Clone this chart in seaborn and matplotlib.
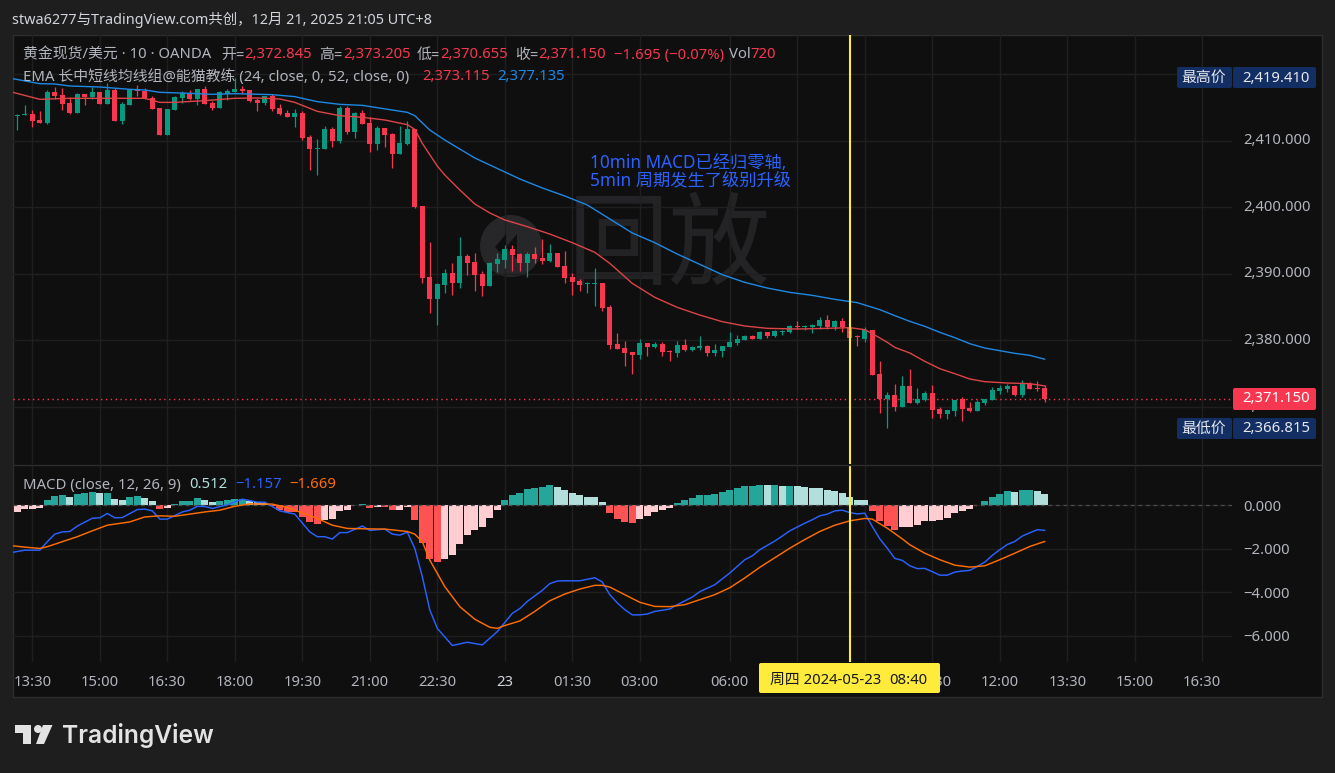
#!/usr/bin/env python3
# -*- coding: utf-8 -*-

import numpy as np
import matplotlib
matplotlib.use("Agg")
import matplotlib.pyplot as plt
import seaborn as sns
from matplotlib.patches import Circle, FancyBboxPatch, Polygon, Rectangle
from matplotlib.transforms import IdentityTransform, ScaledTranslation

# ==============================================================
# DATI (una barra ogni 10 min)
# ==============================================================

opens = [
    2413.76, 2413.91, 2414.01, 2413.11, 2412.66, 2417.32, 2416.87, 2415.71, 2414.16, 2417.07,
    2416.57, 2417.32, 2415.51, 2417.62, 2412.96, 2415.36, 2417.72, 2417.47, 2416.42, 2414.91,
    2410.85, 2414.61, 2416.42, 2417.07, 2416.22, 2417.77, 2415.61, 2414.91, 2417.07, 2417.32,
    2417.77, 2417.62, 2416.12, 2415.66, 2416.72, 2414.91, 2414.16, 2413.56, 2414.16, 2410.55,
    2408.75, 2408.75, 2411.75, 2409.95, 2414.91, 2411.30, 2414.16, 2412.66, 2409.50, 2411.90,
    2411.00, 2407.99, 2409.50, 2411.75, 2400.17, 2389.50, 2386.19, 2388.29, 2390.10, 2388.59,
    2392.65, 2391.75, 2389.95, 2388.14, 2391.45, 2392.05, 2393.71, 2392.96, 2391.60, 2392.96,
    2392.35, 2391.90, 2393.11, 2391.15, 2389.50, 2388.90, 2388.49, 2388.49, 2388.59, 2384.99,
    2379.42, 2378.82, 2378.22, 2377.77, 2379.57, 2378.97, 2379.42, 2378.42, 2378.07, 2379.27,
    2378.52, 2378.82, 2379.12, 2378.07, 2378.37, 2378.97, 2379.57, 2380.02, 2380.62, 2380.17,
    2381.22, 2380.62, 2381.22, 2381.22, 2382.13, 2381.98, 2381.98, 2382.13, 2383.03, 2381.98,
    2382.88, 2382.03, 2380.53, 2380.23, 2381.58, 2374.96, 2371.20, 2371.80, 2370.00, 2373.16,
    2370.60, 2371.05, 2372.11, 2369.70, 2368.95, 2369.40, 2371.20, 2369.85, 2369.40, 2370.60,
    2371.05, 2372.41, 2372.71, 2373.16, 2371.80, 2373.46, 2372.86, 2372.845,
]
highs = [
    2413.96, 2415.36, 2414.61, 2414.46, 2417.62, 2418.02, 2417.87, 2416.52, 2417.12, 2417.07,
    2418.12, 2417.32, 2418.62, 2417.87, 2415.87, 2417.72, 2418.37, 2417.87, 2416.72, 2414.91,
    2414.76, 2416.77, 2417.52, 2417.62, 2417.77, 2418.22, 2416.02, 2417.47, 2417.77, 2419.41,
    2418.22, 2417.62, 2416.47, 2416.77, 2417.02, 2415.51, 2414.61, 2414.71, 2414.46, 2410.85,
    2410.25, 2412.21, 2412.01, 2415.21, 2415.21, 2414.36, 2414.61, 2413.51, 2412.21, 2411.90,
    2411.15, 2412.21, 2412.96, 2411.75, 2400.17, 2394.76, 2388.54, 2390.65, 2391.60, 2395.51,
    2392.96, 2393.11, 2390.40, 2391.75, 2393.11, 2394.31, 2394.31, 2393.11, 2393.26, 2394.01,
    2395.21, 2394.46, 2393.11, 2393.41, 2390.05, 2389.20, 2388.79, 2390.80, 2388.59, 2385.29,
    2381.07, 2379.87, 2378.22, 2380.17, 2379.57, 2379.72, 2379.72, 2378.52, 2379.87, 2380.17,
    2379.12, 2380.62, 2379.27, 2379.42, 2379.12, 2381.22, 2380.77, 2380.77, 2380.77, 2381.38,
    2381.22, 2381.53, 2381.53, 2382.28, 2382.88, 2382.28, 2382.43, 2383.43, 2383.78, 2383.03,
    2383.33, 2382.10, 2380.83, 2381.98, 2381.58, 2376.92, 2372.26, 2373.46, 2374.66, 2375.71,
    2372.86, 2372.41, 2373.31, 2370.00, 2369.55, 2371.05, 2371.50, 2370.75, 2371.05, 2371.20,
    2373.01, 2373.31, 2373.46, 2373.31, 2374.06, 2373.76, 2373.91, 2373.205,
]
lows = [
    2411.60, 2413.86, 2412.11, 2412.61, 2412.51, 2416.27, 2414.61, 2414.01, 2414.16, 2415.36,
    2416.22, 2415.51, 2415.51, 2412.96, 2412.51, 2415.36, 2416.72, 2416.27, 2414.76, 2410.85,
    2410.85, 2414.61, 2415.71, 2416.17, 2415.36, 2415.51, 2414.61, 2414.91, 2416.12, 2417.27,
    2417.07, 2415.87, 2414.46, 2415.41, 2414.46, 2413.86, 2413.56, 2412.11, 2410.10, 2405.59,
    2404.84, 2408.75, 2409.05, 2409.65, 2411.00, 2410.40, 2412.51, 2408.30, 2408.60, 2409.05,
    2405.89, 2407.99, 2409.35, 2399.92, 2388.59, 2384.08, 2382.28, 2387.09, 2386.79, 2387.84,
    2389.80, 2387.39, 2386.64, 2388.14, 2390.25, 2390.85, 2390.40, 2390.40, 2389.50, 2391.60,
    2391.45, 2391.70, 2391.00, 2388.59, 2386.79, 2387.34, 2387.09, 2385.14, 2384.38, 2378.67,
    2378.67, 2376.11, 2374.91, 2377.16, 2377.62, 2378.82, 2377.62, 2376.86, 2377.47, 2378.37,
    2378.37, 2378.52, 2377.62, 2377.62, 2377.47, 2378.97, 2379.27, 2380.02, 2380.17, 2380.17,
    2380.32, 2380.47, 2380.77, 2381.07, 2381.68, 2381.53, 2381.07, 2381.68, 2381.68, 2381.53,
    2381.22, 2380.30, 2379.07, 2379.78, 2374.81, 2369.10, 2366.815, 2369.40, 2370.00, 2370.60,
    2370.45, 2370.90, 2368.35, 2368.35, 2368.20, 2368.65, 2367.89, 2369.25, 2369.40, 2370.30,
    2371.05, 2371.96, 2372.26, 2371.65, 2371.50, 2372.71, 2372.41, 2370.655,
]
closes = [
    2413.86, 2414.01, 2412.96, 2412.66, 2417.32, 2416.72, 2415.51, 2414.11, 2417.02, 2416.57,
    2417.32, 2415.51, 2417.62, 2412.96, 2415.51, 2417.62, 2417.52, 2416.37, 2414.76, 2410.85,
    2414.76, 2416.57, 2417.17, 2416.27, 2417.77, 2415.51, 2414.86, 2417.32, 2417.47, 2417.77,
    2417.47, 2415.97, 2415.66, 2416.72, 2414.71, 2414.01, 2413.56, 2414.16, 2410.40, 2408.75,
    2408.90, 2411.75, 2409.95, 2414.91, 2411.30, 2414.16, 2412.51, 2409.50, 2411.90, 2410.85,
    2407.99, 2409.65, 2411.75, 2400.02, 2389.35, 2386.19, 2388.44, 2390.10, 2388.59, 2392.65,
    2391.60, 2389.80, 2388.14, 2391.60, 2392.20, 2393.71, 2392.81, 2391.60, 2392.96, 2392.15,
    2391.90, 2393.11, 2391.00, 2389.35, 2388.74, 2388.29, 2388.64, 2388.59, 2384.83, 2379.27,
    2378.67, 2378.07, 2377.77, 2379.57, 2378.97, 2379.42, 2378.22, 2378.27, 2379.27, 2378.52,
    2378.97, 2379.12, 2378.07, 2378.52, 2379.12, 2379.72, 2380.17, 2380.62, 2380.17, 2381.22,
    2380.62, 2381.38, 2381.38, 2382.13, 2381.98, 2382.13, 2382.28, 2383.03, 2381.98, 2382.88,
    2381.98, 2380.38, 2380.43, 2381.58, 2374.81, 2371.20, 2371.80, 2370.00, 2373.16, 2370.60,
    2371.20, 2372.11, 2369.55, 2368.95, 2369.55, 2371.05, 2369.70, 2369.40, 2370.75, 2371.20,
    2372.56, 2372.86, 2373.16, 2371.80, 2373.46, 2372.71, 2372.71, 2371.15,
]

# EMA: (numero barra, valore)
ema24_bars = [0.4, 4, 8, 12, 18, 20, 22, 26, 30, 33, 36, 38, 41, 44, 47, 50, 53, 54, 55, 57,
              58, 60, 62, 64, 66, 69, 72, 75, 78, 80, 83, 86, 89, 92, 95, 98, 101, 105, 109, 112,
              114, 115, 117, 118, 120, 122, 124, 126, 128, 130, 133, 136, 138]
ema24_vals = [2417.27, 2416.22, 2416.37, 2416.37, 2416.37, 2415.76, 2415.76, 2416.02, 2416.37,
              2416.42, 2416.27, 2415.76, 2414.41, 2413.76, 2413.51, 2413.11, 2412.41, 2411.70,
              2409.60, 2406.19, 2404.84, 2402.59, 2400.48, 2399.13, 2398.08, 2397.07, 2395.96,
              2394.66, 2393.21, 2391.55, 2388.54, 2386.44, 2384.93, 2383.78, 2382.78, 2382.13,
              2381.78, 2381.68, 2381.78, 2381.88, 2381.58, 2380.98, 2379.68, 2378.92, 2378.07,
              2376.82, 2375.71, 2374.96, 2374.16, 2373.76, 2373.56, 2373.46, 2373.115]

ema52_bars = [0.4, 4, 6, 8, 12, 16, 18, 20, 24, 27, 30, 35, 38, 41, 44, 47, 49, 51, 53, 54, 56, 57,
              58, 60, 62, 65, 68, 71, 74, 77, 80, 83, 86, 89, 92, 95, 98, 101, 104, 107, 110, 113,
              116, 118, 120, 122, 124, 126, 128, 130, 132, 134, 136, 138]
ema52_vals = [2419.32, 2418.57, 2418.52, 2418.22, 2418.07, 2417.72, 2417.62, 2417.27, 2417.12,
              2416.97, 2417.07, 2416.92, 2416.62, 2415.87, 2415.46, 2415.31, 2414.96, 2414.61,
              2414.26, 2413.76, 2411.60, 2410.85, 2410.10, 2408.74, 2407.40, 2405.82, 2404.24,
              2402.89, 2401.68, 2400.33, 2398.23, 2396.12, 2394.66, 2392.95, 2391.40, 2389.85,
              2388.69, 2387.84, 2387.19, 2386.74, 2386.14, 2385.64, 2384.59, 2383.69, 2382.83,
              2382.08, 2381.18, 2380.38, 2379.47, 2378.82, 2378.42, 2378.02, 2377.72, 2377.135]

# MACD istogramma, una colonna per barra
hist_vals = [
    -.31, -.18, -.17, -.12, .23, .41, .46, .37, .51, .55,
    .60, .55, .56, .28, .23, .37, .41, .32, .18, -.18,
    -.14, .05, .18, .19, .32, .23, .14, .18, .23, .28,
    .29, .18, .14, .09, -.05, -.23, -.31, -.32, -.55, -.78,
    -.87, -.69, -.64, -.28, -.23, .02, .05, -.14, -.08, -.09,
    -.23, -.22, -.08, -.69, -1.75, -2.48, -2.62, -2.48, -2.30, -1.79,
    -1.38, -1.15, -1.01, -.60, -.23, .23, .46, .57, .75, .80,
    .84, .93, .84, .70, .57, .47, .38, .37, .15, -.35,
    -.63, -.77, -.81, -.63, -.49, -.31, -.21, -.12, .11, .25,
    .34, .47, .48, .52, .61, .70, .80, .89, .90, .93,
    .92, .93, .89, .90, .89, .84, .80, .79, .70, .66,
    .57, .38, .25, .24, -.26, -.72, -.95, -1.13, -1.00, -.99,
    -.90, -.72, -.71, -.67, -.58, -.35, -.26, -.17, .02, .20,
    .38, .52, .66, .61, .70, .71, .66, .512,
]

macd_bars = [0.4, 2, 4, 5, 6, 7, 8, 9, 11, 12, 13, 14, 15, 17, 18, 19, 20, 21, 23, 24, 25, 26, 27,
             29, 31, 33, 34, 36, 38, 40, 41, 42, 43, 44, 45, 47, 48, 50, 51, 52, 53, 54, 55, 56,
             57, 59, 61, 63, 65, 67, 68, 69, 71, 72, 73, 74, 76, 78, 79, 80, 81, 82, 83, 84, 85,
             86, 88, 89, 91, 92, 94, 96, 98, 99, 100, 102, 103, 104, 106, 107, 108, 109, 110, 111,
             112, 113, 114, 115, 116, 117, 118, 119, 120, 121, 122, 123, 124, 125, 126, 127, 128,
             129, 130, 131, 132, 133, 134, 135, 136, 137, 138]
macd_vals = [-2.17, -2.07, -2.07, -1.68, -1.33, -1.23, -1.21, -.96, -.60, -.58, -.38, -.58, -.57,
             -.20, -.18, -.26, -.64, -.64, -.31, -.23, -.05, -.06, -.15, .02, .28, .14, .14, -.26,
             -.41, -1.23, -1.45, -1.45, -1.56, -1.26, -1.26, -.96, -1.16, -1.10, -1.33, -1.38,
             -1.24, -1.99, -3.29, -4.82, -5.67, -6.46, -6.31, -6.43, -5.82, -4.98, -4.76, -4.43,
             -3.92, -3.61, -3.49, -3.48, -3.48, -3.34, -3.54, -4.12, -4.50, -4.81, -5.05, -5.05,
             -5.01, -4.89, -4.78, -4.58, -4.23, -3.98, -3.66, -3.12, -2.51, -2.33, -2.05, -1.65,
             -1.42, -1.18, -.83, -.67, -.49, -.41, -.26, -.23, -.34, -.40, -.37, -.98, -1.55,
             -1.98, -2.45, -2.54, -2.79, -2.92, -2.91, -3.06, -3.22, -3.22, -3.08, -3.03, -3.00,
             -2.82, -2.62, -2.31, -2.05, -1.81, -1.67, -1.42, -1.27, -1.13, -1.157]

signal_bars = [0.4, 2, 4, 5, 7, 9, 11, 13, 16, 18, 20, 22, 24, 26, 28, 30, 32, 35, 37, 39, 41, 43,
               45, 48, 50, 53, 54, 55, 56, 58, 60, 62, 64, 65, 66, 68, 70, 72, 74, 76, 78, 79, 80,
               82, 84, 86, 88, 90, 92, 94, 96, 98, 100, 102, 104, 106, 108, 110, 112, 114, 115,
               117, 119, 120, 122, 124, 126, 128, 130, 132, 134, 136, 138]
signal_vals = [-1.87, -1.93, -1.99, -1.91, -1.68, -1.45, -1.18, -.92, -.77, -.54, -.49, -.51, -.41,
               -.31, -.23, -.05, .06, .05, -.11, -.35, -.61, -.92, -1.07, -1.09, -1.10, -1.21,
               -1.33, -1.68, -2.53, -3.75, -4.67, -5.25, -5.62, -5.67, -5.54, -5.33, -4.89, -4.40,
               -4.09, -3.86, -3.69, -3.69, -3.77, -4.12, -4.47, -4.66, -4.67, -4.58, -4.35, -4.12,
               -3.80, -3.35, -2.86, -2.42, -1.98, -1.58, -1.21, -.92, -.72, -.61, -.64, -1.06,
               -1.55, -1.82, -2.21, -2.51, -2.76, -2.85, -2.79, -2.51, -2.21, -1.90, -1.669]

# 07:30 e 09:00 stanno sotto l'etichetta gialla: resta solo la griglia
time_ticks = [3, 12, 21, 30, 39, 48, 57, 66, 75, 84, 96, 105, 114, 123, 132, 141, 150, 159]
time_labels = ["13:30", "15:00", "16:30", "18:00", "19:30", "21:00", "22:30", "23", "01:30", "03:00",
               "06:00", "", "", "10:30", "12:00", "13:30", "15:00", "16:30"]
price_ticks = [2420, 2410, 2400, 2390, 2380, 2370]
macd_ticks = [0, -2, -4, -6]
last_price = 2371.15
replay_bar = 112

# ==============================================================
# STILE
# ==============================================================

W, H = 1335, 773
BG_OUT = "#1e1e1e"
BG_PANE = "#0f0f0f"
GRID = "#1f1f1f"
TXT = "#b2b5be"
UP = "#089981"
DOWN = "#f7374f"
YELLOW = "#ffeb3b"
FONT = ["Noto Sans", "Noto Sans CJK SC", "DejaVu Sans"]
FS = 10.7

sns.set_theme(style="dark", rc={"axes.facecolor": BG_PANE, "figure.facecolor": BG_OUT})
plt.rcParams["font.family"] = FONT

fig = plt.figure(figsize=(W / 100, H / 100), dpi=100)


def px_axes(x0, y0, x1, y1):
    return fig.add_axes([x0 / W, 1 - y1 / H, (x1 - x0) / W, (y1 - y0) / H])


def put(x, y, s, color=TXT, size=FS, ha="left", **kw):
    return fig.text(x / W, 1 - (y + 1) / H, s, color=color, fontsize=size, ha=ha, va="center", **kw)


def box(x0, y0, x1, y1, color, r=2):
    p = FancyBboxPatch((x0 + r, H - y1 + r), x1 - x0 - 2 * r, y1 - y0 - 2 * r,
                       boxstyle=f"round,pad={r},rounding_size={r}", linewidth=0,
                       facecolor=color, transform=IdentityTransform(), zorder=2)
    fig.add_artist(p)


# sfondo del riquadro grafico + bordo
fig.add_artist(Rectangle((13, H - 697), 1309, 662, facecolor=BG_PANE, edgecolor="#2d2d2d",
                         linewidth=1, transform=IdentityTransform(), zorder=-1))

ax = px_axes(13, 35, 1232, 464)
ax2 = px_axes(13, 465, 1232, 662)
xlim = (0.427, 162.96)

bars = np.arange(1, len(opens) + 1)
o, h, l, c = map(np.array, (opens, highs, lows, closes))
colors = np.where(c >= o, UP, DOWN)

# ==============================================================
# PANNELLO PREZZO
# ==============================================================

# logo "replay" in filigrana
ax.add_patch(Circle((511, H - 246), 31, facecolor="#27272a", linewidth=0,
                    transform=IdentityTransform(), zorder=0.5))
for tx in (495, 506):
    ax.add_patch(Polygon([(tx, H - 247), (tx + 11, H - 234), (tx + 11, H - 259)], facecolor=BG_PANE,
                         linewidth=0, transform=IdentityTransform(), zorder=0.6))
ax.text(669 / W, 1 - 250 / H, "回放", transform=fig.transFigure, fontsize=73, color="#232326",
        ha="center", va="center", zorder=0.5)

ax.axhline(last_price, color=DOWN, linestyle=(0, (1, 2.5)), linewidth=1, zorder=1.5)
ax.vlines(bars, l, h, colors=colors, linewidth=0.9, zorder=3)
ax.bar(bars, np.maximum(np.abs(c - o), 0.16), bottom=np.minimum(o, c), width=0.68, color=colors,
       linewidth=0, zorder=3)
sns.lineplot(x=ema24_bars, y=ema24_vals, color="#dd4448", linewidth=1.0, estimator=None, ax=ax, zorder=4)
sns.lineplot(x=ema52_bars, y=ema52_vals, color="#1e88e5", linewidth=1.0, estimator=None, ax=ax, zorder=4)

ax.set_xlim(*xlim)
ax.set_ylim(2361.38, 2425.89)
ax.set_yticks(price_ticks)
ax.set_yticklabels([f"{v:,.3f}" for v in price_ticks])

# ==============================================================
# PANNELLO MACD
# ==============================================================

prev = [hist_vals[0] - 1] + hist_vals[:-1]
hist_kind = []
for v, p in zip(hist_vals, prev):
    if v >= 0:
        hist_kind.append("su+" if v >= p else "giu+")
    else:
        hist_kind.append("su-" if v >= p else "giu-")
hist_palette = {"su+": "#26a69a", "giu+": "#b2dfdb", "su-": "#ffcdd2", "giu-": "#ff5252"}

sns.barplot(x=bars, y=hist_vals, hue=hist_kind, palette=hist_palette, native_scale=True, dodge=False,
            width=0.88, saturation=1, linewidth=0, legend=False, ax=ax2, zorder=2)
ax2.axhline(0, color="#4d4d4d", linestyle=(0, (3, 3)), linewidth=0.9, zorder=2.5)
sns.lineplot(x=macd_bars, y=macd_vals, color="#2962ff", linewidth=1.05, estimator=None, ax=ax2, zorder=4)
sns.lineplot(x=signal_bars, y=signal_vals, color="#ff6d00", linewidth=1.05, estimator=None, ax=ax2, zorder=4)

ax2.set_xlim(*xlim)
ax2.set_ylim(-7.219, 1.851)
ax2.set_yticks(macd_ticks)
ax2.set_yticklabels([f"{v:.3f}".replace("-", "\u2212") for v in macd_ticks])

for a in (ax, ax2):
    a.patch.set_alpha(0)
    for s in a.spines.values():
        s.set_visible(False)
    a.grid(True, color=GRID, linewidth=1)
    a.set_axisbelow(True)
    a.set_xticks(time_ticks)
    a.yaxis.tick_right()
    a.tick_params(axis="y", length=0, pad=8, labelsize=FS, labelcolor=TXT)
    a.tick_params(axis="x", length=0, pad=9, labelsize=FS, labelcolor=TXT)
    a.set_xlabel("")
    a.set_ylabel("")
    a.axvline(replay_bar, color=YELLOW, linewidth=1.5, zorder=5)
ax.tick_params(axis="x", labelbottom=False)
ax2.set_xticklabels(time_labels)
for lab in ax2.get_xticklabels():
    if lab.get_text() == "23":
        lab.set_color("#d1d4dc")
        lab.set_fontweight("bold")

# le etichette di prezzo stanno 2 px sopra la griglia
up2 = ScaledTranslation(0, 2 / 100, fig.dpi_scale_trans)
for lab in ax.get_yticklabels():
    lab.set_transform(lab.get_transform() + up2)

# separatore tra i pannelli
fig.add_artist(plt.Line2D([13 / W, 1322 / W], [1 - 464.5 / H] * 2, color="#2d2d2d", linewidth=1, zorder=0.5))

# ==============================================================
# ETICHETTE E TESTI
# ==============================================================

put(12, 19, "stwa6277与TradingView.com共创，12月 21, 2025 21:05 UTC+8", color="#d1d4dc", size=10.4)

put(23, 54, "黄金现货/美元 · 10 · OANDA")
for x, s in [(221, "开="), (319, "高="), (417, "低="), (515, "收="), (729, "Vol")]:
    put(x, 54, s)
for x, s in [(244, "2,372.845"), (343, "2,373.205"), (440, "2,370.655"), (538, "2,371.150"),
             (614, "\u22121.695 (\u22120.07%)"), (750, "720")]:
    put(x, 54, s, color=DOWN)

put(23, 76, "EMA 长中短线均线组@能猫教练 (24, close, 0, 52, close, 0)")
put(422, 76, "2,373.115", color=DOWN)
put(497, 76, "2,377.135", color="#1e88e5")

put(23, 484, "MACD (close, 12, 26, 9)")
put(189, 484, "0.512", color="#b2dfdb")
put(235, 484, "\u22121.157", color="#2962ff")
put(289, 484, "\u22121.669", color="#ff6d00")

put(590, 162.5, "10min MACD已经归零轴,", color="#2962ff", size=12.4)
put(590, 179.5, "5min 周期发生了级别升级", color="#2962ff", size=12.4)

# etichette di prezzo
NAVY = "#132e63"
box(1177, 67, 1232, 88, NAVY)
box(1233, 67, 1316, 88, NAVY)
put(1204, 77, "最高价", color="#e6e8ee", ha="center")
put(1276, 77, "2,419.410", color="#e6e8ee", ha="center")

box(1233, 388, 1316, 410, DOWN)
put(1276, 398, "2,371.150", color="white", ha="center")

box(1177, 418, 1232, 439, NAVY)
box(1233, 418, 1316, 439, NAVY)
put(1204, 428, "最低价", color="#e6e8ee", ha="center")
put(1276, 428, "2,366.815", color="#e6e8ee", ha="center")

# etichetta data gialla
box(759, 663, 940, 693, YELLOW)
put(770, 679.5, "周四 2024-05-23", color="#131722")
put(889, 679.5, "08:40", color="#131722")

# marchio TradingView
LOGO = "#e3e3e3"
fig.add_artist(Polygon([(15, H - 725), (31, H - 725), (31, H - 744), (23, H - 744), (23, H - 733), (15, H - 733)],
                       facecolor=LOGO, linewidth=0, transform=IdentityTransform(), zorder=2))
fig.add_artist(Circle((38, H - 729), 4, facecolor=LOGO, linewidth=0, transform=IdentityTransform(), zorder=2))
fig.add_artist(Polygon([(43, H - 725), (52.5, H - 725), (44, H - 744), (36, H - 744)],
                       facecolor=LOGO, linewidth=0, transform=IdentityTransform(), zorder=2))
put(62, 735, "TradingView", color=LOGO, size=17.7, family="Inter", fontweight="semibold")

fig.savefig("out.png", dpi=100, facecolor=fig.get_facecolor())
